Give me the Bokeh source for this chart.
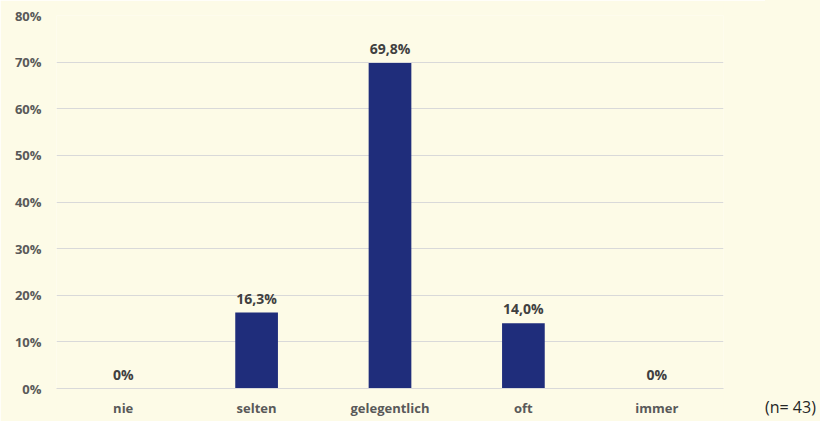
from bokeh.plotting import figure
from bokeh.models import ColumnDataSource, FactorRange, Range1d, FixedTicker, Div
from bokeh.layouts import row
from bokeh.core.properties import value
from bokeh.embed import file_html
from bokeh.resources import INLINE

categories = ["nie", "selten", "gelegentlich", "oft", "immer"]
values = [0.0, 16.3, 69.8, 14.0, 0.0]
value_labels = ["0%", "16,3%", "69,8%", "14,0%", "0%"]
y_ticks = [0, 10, 20, 30, 40, 50, 60, 70, 80]
y_tick_labels = ["0%", "10%", "20%", "30%", "40%", "50%", "60%", "70%", "80%"]
n_note = "(n= 43)"

BG = "#FDFBE7"
BAR = "#1F2D7B"
GRID = "#D9D9D9"
LABEL = "#595959"
FONT = "Open Sans"

source = ColumnDataSource(dict(cat=categories, val=values, lab=value_labels))

p = figure(
    x_range=FactorRange(*categories, range_padding=0),
    y_range=Range1d(0, 80),
    width=765, height=421,
    output_backend="svg", toolbar_location=None,
    min_border_left=56, min_border_right=42, min_border_top=15, min_border_bottom=33,
    background_fill_color=BG, border_fill_color=BG,
)
p.outline_line_color = None

p.vbar(x="cat", top="val", width=0.32, source=source, color=BAR, line_color=None)
p.text(x="cat", y="val", text="lab", source=source,
       text_align="center", text_baseline="bottom", y_offset=-5,
       text_font=value(FONT), text_font_style="bold", text_font_size="14px",
       text_color="#404040")

p.xgrid.grid_line_color = None
p.ygrid.grid_line_color = GRID
p.ygrid.grid_line_width = 1

p.yaxis.ticker = FixedTicker(ticks=y_ticks)
p.yaxis.major_label_overrides = {t: l for t, l in zip(y_ticks, y_tick_labels)}
p.yaxis.axis_line_color = None
p.yaxis.major_tick_line_color = None
p.yaxis.minor_tick_line_color = None
p.yaxis.major_tick_out = 0
p.yaxis.major_label_standoff = 15
p.yaxis.major_label_text_font = FONT
p.yaxis.major_label_text_font_style = "bold"
p.yaxis.major_label_text_font_size = "13px"
p.yaxis.major_label_text_color = LABEL

p.xaxis.axis_line_color = GRID
p.xaxis.major_tick_line_color = None
p.xaxis.minor_tick_line_color = None
p.xaxis.major_tick_out = 0
p.xaxis.major_label_standoff = 10
p.xaxis.major_label_text_font = FONT
p.xaxis.major_label_text_font_style = "bold"
p.xaxis.major_label_text_font_size = "13px"
p.xaxis.major_label_text_color = LABEL

note = Div(
    text=('<div style="padding-top:396px; font-family:\'Open Sans\'; font-size:16px; '
          'line-height:22px; color:#262626; white-space:nowrap;">%s</div>' % n_note),
    width=55, height=421, margin=0,
    styles={"background-color": BG},
)

layout = row(p, note, spacing=0)

html = file_html(layout, INLINE)
open("out.html", "w").write(html)
